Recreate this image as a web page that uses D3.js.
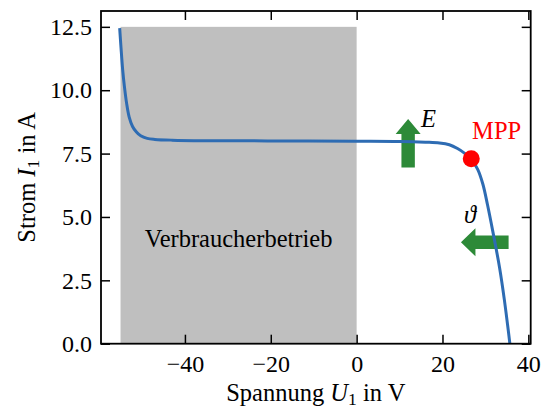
<!DOCTYPE html>
<html><head><meta charset="utf-8">
<script src="https://cdn.jsdelivr.net/npm/d3@7"></script>
<style>
html,body{margin:0;padding:0;background:#fff;}
svg text{font-family:"Liberation Serif","Times New Roman",Times,"DejaVu Serif","Noto Serif",serif !important;}
</style></head>
<body><svg id="c" width="543" height="409"></svg>
<script>
// curve: voltage U1 (V) and current I1 (A)
const voltage = [-55.2,-54.9,-54.5,-54.1,-53.6,-53.0,-52.2,-51.3,-50.3,-48.8,-47,-43,-35,-20,0,10,16,19.3,21.6,23.5,25.1,26.7,28.2,29.4,30.5,31.7,33.3,34.4,35.7];
const current = [12.45,11.7,10.8,10.15,9.5,8.95,8.57,8.35,8.2,8.1,8.06,8.03,8.01,8.0,7.99,7.98,7.95,7.92,7.85,7.7,7.52,7.28,6.88,6.3,5.47,4.45,3.0,1.75,0];
const shadeRegion = [-55, 0];      // Verbraucherbetrieb, U range
const shadeTop = 12.5;
const mpp = [26.7, 7.3];
const arrowE = [12, 6.95, 8.86];     // x, y from, y to
const arrowT = [35.4, 24.3, 4.0];    // x from, x to, y
const xTicks = [-40,-20,0,20,40];
const yTicks = [0,2.5,5,7.5,10,12.5];

const svg = d3.select("#c");
const L=101, R=530.7, T=11, B=343.7;
const x = d3.scaleLinear().domain([-59.55,40.55]).range([L,R]);
const y = d3.scaleLinear().domain([0,13.125]).range([B,T]);
const fs = 24;     // tick labels
const fl = 24.5;   // labels and annotations
const FF = '"Liberation Serif","Times New Roman",Times,"DejaVu Serif",serif';

// shaded region
svg.append("rect").attr("x",x(shadeRegion[0])).attr("y",y(shadeTop))
  .attr("width",x(shadeRegion[1])-x(shadeRegion[0])).attr("height",y(0)-y(shadeTop))
  .attr("fill","#bfbfbf");
svg.append("text").attr("x",x((shadeRegion[0]+shadeRegion[1])/2)).attr("y",y(3.8))
  .attr("text-anchor","middle").attr("font-size",fl).text("Verbraucherbetrieb");

const green="#2d8a38";
// up arrow (E)
{
  const cx=x(arrowE[0]), yb=y(arrowE[1]), yt=y(arrowE[2]);
  const bw=6.7, hw=12.5, hl=15;
  const pts=[[cx-bw,yb],[cx-bw,yt+hl],[cx-hw,yt+hl],[cx,yt],[cx+hw,yt+hl],[cx+bw,yt+hl],[cx+bw,yb]];
  svg.append("polygon").attr("points",pts.map(p=>p.join(",")).join(" ")).attr("fill",green);
}
// left arrow (theta)
{
  const xr=x(arrowT[0]), xl=x(arrowT[1]), cy=y(arrowT[2]);
  const bw=6.8, hw=14, hl=14.5;
  const pts=[[xr,cy-bw],[xl+hl,cy-bw],[xl+hl,cy-hw],[xl,cy],[xl+hl,cy+hw],[xl+hl,cy+bw],[xr,cy+bw]];
  svg.append("polygon").attr("points",pts.map(p=>p.join(",")).join(" ")).attr("fill",green);
}

// curve
const data = voltage.map((u,i)=>[u,current[i]]);
svg.append("path").datum(data)
  .attr("d",d3.line().x(d=>x(d[0])).y(d=>y(d[1])).curve(d3.curveCatmullRom.alpha(0.5)))
  .attr("fill","none").attr("stroke","#2e6cb3").attr("stroke-width",3);

// MPP
svg.append("circle").attr("cx",x(mpp[0])).attr("cy",y(mpp[1])).attr("r",8.5).attr("fill","#ff0000");
svg.append("text").attr("x",x(26.9)).attr("y",y(8.07)).attr("font-size",fl).attr("fill","#ff0000").text("MPP");
svg.append("text").attr("x",x(15.0)).attr("y",y(8.55)).attr("font-size",fl).attr("font-style","italic").text("E");
svg.append("text").attr("x",x(25.0)).attr("y",y(4.75)).attr("font-size",fl).attr("font-style","italic").text("ϑ");

// axes
const tl=9;
const gx=svg.append("g").attr("transform",`translate(0,${B})`)
  .call(d3.axisBottom(x).tickValues(xTicks).tickSizeInner(-tl).tickSizeOuter(0).tickPadding(11).tickFormat(d3.format("d")));
const gxt=svg.append("g").attr("transform",`translate(0,${T})`)
  .call(d3.axisTop(x).tickValues(xTicks).tickSizeInner(-tl).tickSizeOuter(0).tickFormat(""));
const gy=svg.append("g").attr("transform",`translate(${L},0)`)
  .call(d3.axisLeft(y).tickValues(yTicks).tickSizeInner(-tl).tickSizeOuter(0).tickPadding(9).tickFormat(d3.format(".1f")));
const gyr=svg.append("g").attr("transform",`translate(${R},0)`)
  .call(d3.axisRight(y).tickValues(yTicks).tickSizeInner(-tl).tickSizeOuter(0).tickFormat(""));
[gx,gxt,gy,gyr].forEach(g=>{
  g.attr("font-family",FF).attr("font-size",fs);
  g.select(".domain").remove();
  g.selectAll(".tick line").attr("stroke","#000").attr("stroke-width",1.5);
  g.selectAll("text").attr("font-size",fs).attr("fill","#000");
});
// frame
svg.append("rect").attr("x",L).attr("y",T).attr("width",R-L).attr("height",B-T)
  .attr("fill","none").attr("stroke","#000").attr("stroke-width",1.8);

// axis labels
const xl=svg.append("text").attr("x",(L+R)/2).attr("y",401).attr("text-anchor","middle").attr("font-size",fl);
xl.append("tspan").text("Spannung ");
xl.append("tspan").attr("font-style","italic").text("U");
xl.append("tspan").attr("font-size",fl*0.72).attr("dy",4).text("1");
xl.append("tspan").attr("dy",-4).text(" in V");

const yl=svg.append("text").attr("transform",`translate(35,${(T+B)/2}) rotate(-90)`).attr("text-anchor","middle").attr("font-size",fl);
yl.append("tspan").text("Strom ");
yl.append("tspan").attr("font-style","italic").text("I");
yl.append("tspan").attr("font-size",fl*0.72).attr("dy",4).text("1");
yl.append("tspan").attr("dy",-4).text(" in A");
</script></body></html>
